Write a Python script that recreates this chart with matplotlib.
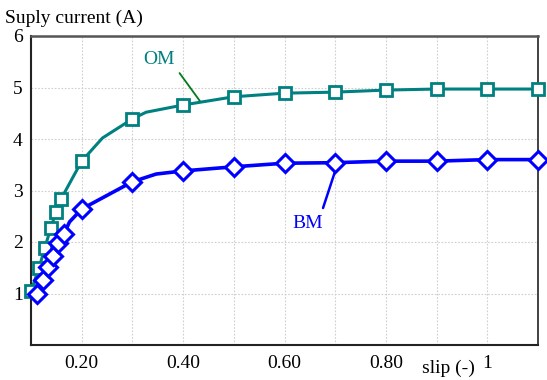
import matplotlib
matplotlib.use("Agg")
import matplotlib.pyplot as plt
import numpy as np

# Supply current vs. slip for the two machines
# OM curve vertices (slip, current); markers drawn on the measured points only
om_slip = [0.100, 0.116, 0.127, 0.139, 0.149, 0.159, 0.200, 0.241, 0.300, 0.327, 0.400,
           0.500, 0.600, 0.700, 0.800, 0.900, 1.000, 1.100]
om_current = [1.05, 1.50, 1.88, 2.27, 2.58, 2.83, 3.57, 4.02, 4.39, 4.52, 4.66,
              4.82, 4.89, 4.91, 4.95, 4.97, 4.97, 4.97]
om_marked = [0, 1, 2, 3, 4, 5, 6, 8, 10, 11, 12, 13, 14, 15, 16, 17]

# BM curve vertices
bm_slip = [0.112, 0.124, 0.133, 0.143, 0.153, 0.165, 0.176, 0.200, 0.300, 0.347, 0.400,
           0.500, 0.600, 0.700, 0.800, 0.900, 1.000, 1.100]
bm_current = [1.00, 1.26, 1.51, 1.73, 1.98, 2.16, 2.39, 2.64, 3.17, 3.32, 3.38,
              3.46, 3.53, 3.54, 3.57, 3.57, 3.60, 3.60]
bm_marked = [0, 1, 2, 3, 4, 5, 7, 8, 10, 11, 12, 13, 14, 15, 16, 17]

x_ticks = [0.2, 0.4, 0.6, 0.8, 1.0]
x_tick_labels = ["0.20", "0.40", "0.60", "0.80", "1"]
y_ticks = [1, 2, 3, 4, 5, 6]

plt.rcParams["font.family"] = ["Liberation Serif", "DejaVu Serif"]

fig = plt.figure(figsize=(5.47, 3.80), dpi=100)
ax = fig.add_axes([31 / 547, 1 - 345 / 380, (538 - 31) / 547, (345 - 36) / 380])

teal = "#008080"
blue = "#0000ff"

ax.plot(om_slip, om_current, color=teal, lw=2.2, marker="s", markevery=om_marked,
        ms=9, mew=2, mfc="white", mec=teal, clip_on=False, zorder=3)
ax.plot(bm_slip, bm_current, color=blue, lw=2.6, marker="D", markevery=bm_marked,
        ms=9, mew=2.2, mfc="white", mec=blue, clip_on=False, zorder=4)

ax.set_xlim(0.1, 1.1)
ax.set_ylim(0, 6)
ax.set_xticks(np.arange(0.1, 1.11, 0.1), minor=True)
ax.set_xticks(x_ticks)
ax.set_xticklabels(x_tick_labels)
ax.set_yticks(y_ticks)
ax.tick_params(which="both", length=0, labelsize=14, pad=7)
ax.tick_params(axis="y", pad=6)
ax.grid(True, which="both", color="#cfcfcf", ls=(0, (1.5, 1.5)), lw=0.8)
ax.set_axisbelow(True)
for side in ["left", "bottom"]:
    ax.spines[side].set_linewidth(1.5)
    ax.spines[side].set_color("#222222")
ax.spines["top"].set_linewidth(1.8)
ax.spines["top"].set_color("#555555")
ax.spines["right"].set_linewidth(1.2)
ax.spines["right"].set_color("#222222")

# Series labels with leader lines
ax.text(0.352, 5.55, "OM", color=teal, fontsize=14, ha="center", va="center")
ax.annotate("", xy=(0.433, 4.74), xytext=(0.393, 5.28),
            arrowprops=dict(arrowstyle="-", color="#007a1a", lw=1.3, shrinkA=0, shrinkB=0))
ax.text(0.646, 2.35, "BM", color=blue, fontsize=14, ha="center", va="center")
ax.annotate("", xy=(0.702, 3.44), xytext=(0.676, 2.66),
            arrowprops=dict(arrowstyle="-", color=blue, lw=1.8, shrinkA=0, shrinkB=0))

fig.text(5 / 547, 1 - 18 / 380, "Suply current (A)", fontsize=14, ha="left", va="center")
fig.text(448 / 547, 1 - 368 / 380, "slip (-)", fontsize=14, ha="center", va="center")

fig.savefig("out.png", dpi=100)
